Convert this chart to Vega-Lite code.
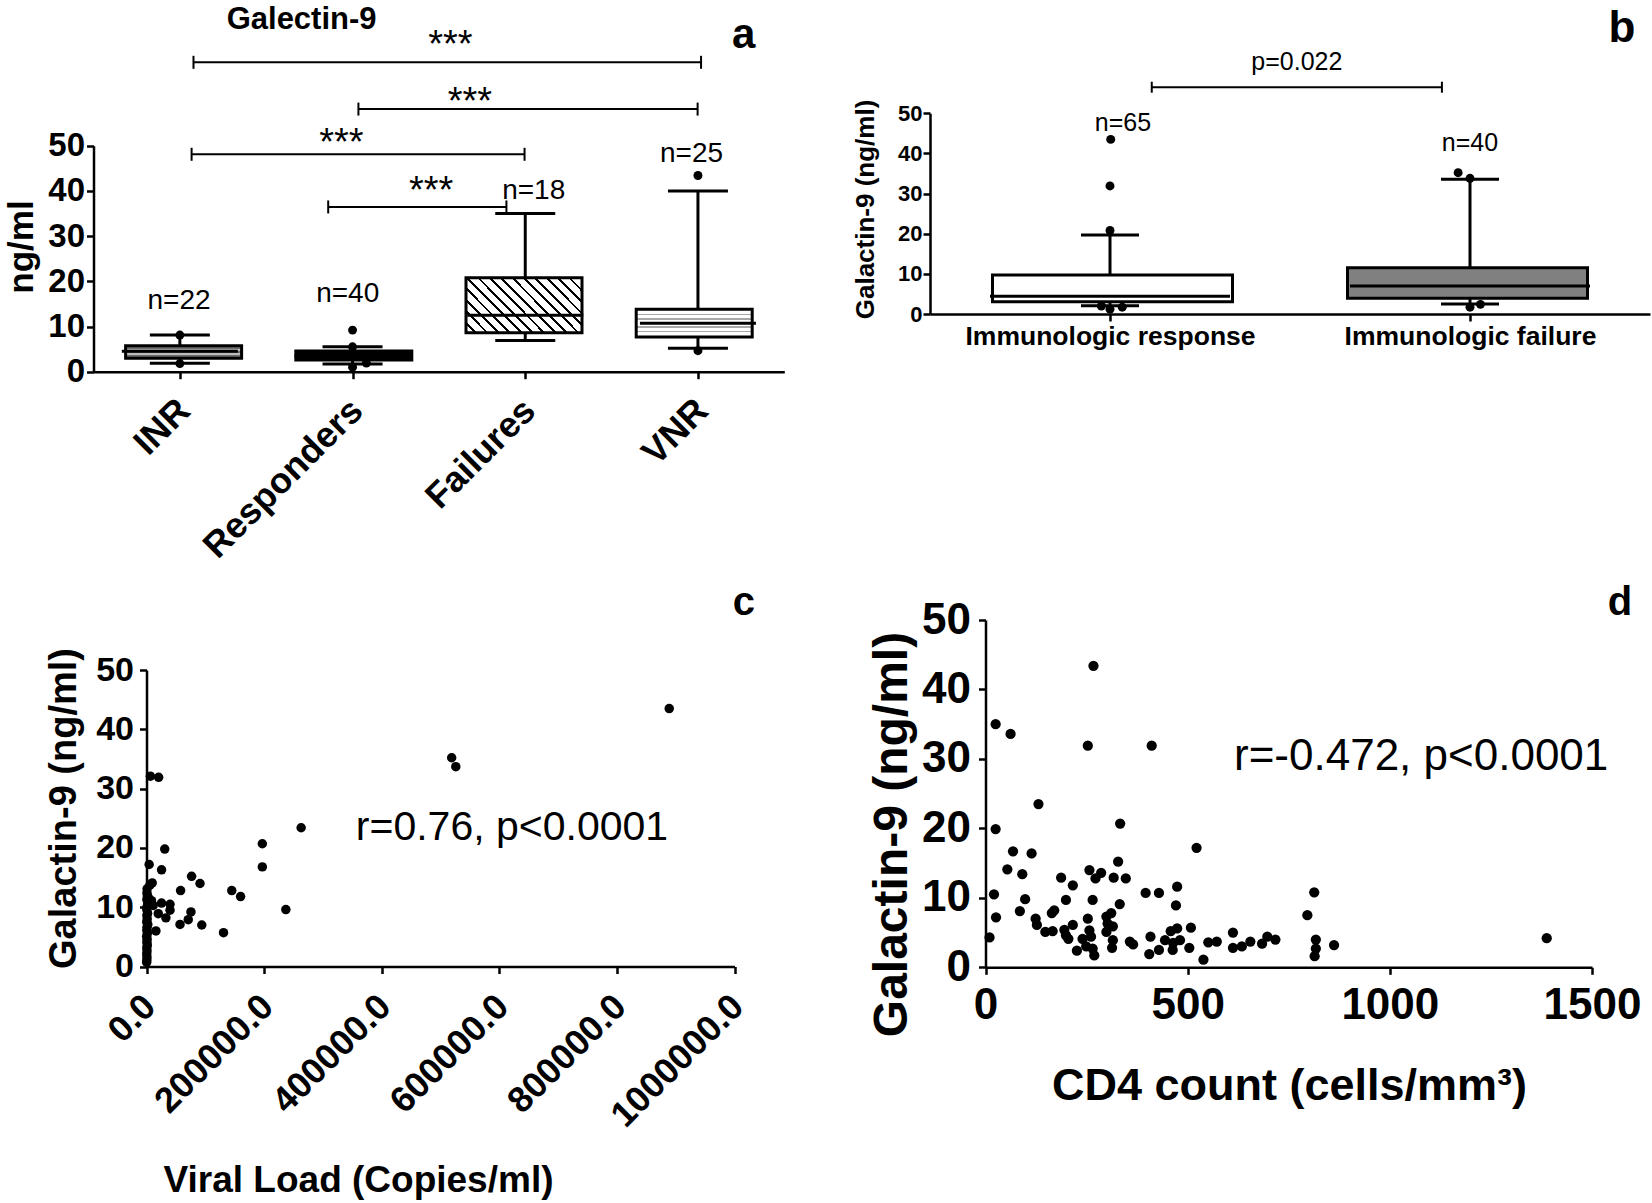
{
  "$schema": "https://vega.github.io/schema/vega-lite/v6.json",
  "width": 1652,
  "height": 1203,
  "autosize": {"type": "none"},
  "padding": 0,
  "background": "white",
  "config": {
    "font": "Liberation Sans, Arial, sans-serif",
    "view": {"stroke": null},
    "axis": {
      "grid": false,
      "domainColor": "black",
      "tickColor": "black",
      "labelColor": "black",
      "titleColor": "black",
      "domainWidth": 2.5,
      "tickWidth": 2.5,
      "tickSize": 7,
      "labelFontWeight": "bold",
      "titleFontWeight": "bold",
      "labelFlush": false,
      "labelOverlap": false,
      "labelLimit": 0
    }
  },
  "datasets": {
    "boxA": [
      {"grp": "INR", "pos": 1, "lo": 1.86, "q1": 2.96, "med": 4.5, "q3": 5.75, "hi": 8.1},
      {"grp": "Responders", "pos": 2, "lo": 1.7, "q1": 2.6, "med": 3.5, "q3": 4.6, "hi": 5.5},
      {"grp": "Failures", "pos": 3, "lo": 6.9, "q1": 8.6, "med": 12.5, "q3": 20.8, "hi": 35.0},
      {"grp": "VNR", "pos": 4, "lo": 5.2, "q1": 7.7, "med": 10.7, "q3": 13.8, "hi": 40.0}
    ],
    "outA": [
      {"pos": 1, "val": 8.1}, {"pos": 1, "val": 1.8},
      {"pos": 2, "val": 9.2}, {"pos": 2, "val": 5.5}, {"pos": 2, "val": 1.0}, {"pos": 2.08, "val": 1.9},
      {"pos": 4, "val": 43.4}, {"pos": 4, "val": 4.65}
    ],
    "brA": [
      {"x1": 1.079, "x2": 4.018, "y": 68.45},
      {"x1": 2.034, "x2": 3.998, "y": 58.1},
      {"x1": 1.068, "x2": 2.996, "y": 48.1},
      {"x1": 1.859, "x2": 2.891, "y": 36.45}
    ],
    "txtA": [
      {"pos": 0.995, "val": 15.7, "txt": "n=22", "kind": "n"},
      {"pos": 1.972, "val": 17.3, "txt": "n=40", "kind": "n"},
      {"pos": 3.049, "val": 39.9, "txt": "n=18", "kind": "n"},
      {"pos": 3.963, "val": 48.2, "txt": "n=25", "kind": "n"},
      {"pos": 2.567, "val": 72.1, "txt": "***", "kind": "star"},
      {"pos": 2.679, "val": 59.5, "txt": "***", "kind": "star"},
      {"pos": 1.935, "val": 50.3, "txt": "***", "kind": "star"},
      {"pos": 2.455, "val": 39.8, "txt": "***", "kind": "star"},
      {"pos": 1.705, "val": 77.8, "txt": "Galectin-9", "kind": "title"},
      {"pos": 4.265, "val": 74.5, "txt": "a", "kind": "letter"}
    ],
    "boxB": [
      {"grp": "Immunologic response", "pos": 1, "lo": 2.07, "q1": 3.07, "med": 4.4, "q3": 9.7, "hi": 19.7},
      {"grp": "Immunologic failure", "pos": 2, "lo": 2.5, "q1": 3.9, "med": 7.0, "q3": 11.5, "hi": 33.6}
    ],
    "outB": [
      {"pos": 1.002, "val": 43.5}, {"pos": 1.0, "val": 31.9}, {"pos": 1.0, "val": 20.8},
      {"pos": 0.976, "val": 2.0}, {"pos": 1.0, "val": 1.2}, {"pos": 1.034, "val": 1.7},
      {"pos": 1.967, "val": 35.2}, {"pos": 2.0, "val": 33.8}, {"pos": 2.0, "val": 1.7}, {"pos": 2.029, "val": 2.4}
    ],
    "brB": [
      {"x1": 1.116, "x2": 1.922, "y": 56.5}
    ],
    "txtB": [
      {"pos": 1.519, "val": 62.8, "txt": "p=0.022", "kind": "n"},
      {"pos": 1.036, "val": 47.6, "txt": "n=65", "kind": "n"},
      {"pos": 2.0, "val": 42.5, "txt": "n=40", "kind": "n"},
      {"pos": 2.422, "val": 71.0, "txt": "b", "kind": "letter"}
    ],
    "ptsC": [
      {"x": 889000, "y": 43.5}, {"x": 519000, "y": 35.2}, {"x": 526000, "y": 33.7},
      {"x": 263000, "y": 23.4}, {"x": 197000, "y": 20.7}, {"x": 197000, "y": 16.8},
      {"x": 237000, "y": 9.6}, {"x": 131000, "y": 5.7}, {"x": 145000, "y": 12.8},
      {"x": 160000, "y": 11.8}, {"x": 94000, "y": 7.0}, {"x": 91000, "y": 14.0},
      {"x": 76700, "y": 15.2}, {"x": 58000, "y": 12.8}, {"x": 57000, "y": 7.1},
      {"x": 71000, "y": 7.9}, {"x": 75600, "y": 9.2}, {"x": 31000, "y": 19.8},
      {"x": 25600, "y": 16.3}, {"x": 6600, "y": 32.1}, {"x": 20600, "y": 31.9},
      {"x": 4500, "y": 17.2}, {"x": 9700, "y": 14.1}, {"x": 5700, "y": 13.7},
      {"x": 1000, "y": 13.1}, {"x": 40000, "y": 10.5}, {"x": 40000, "y": 9.5},
      {"x": 25600, "y": 10.7}, {"x": 33000, "y": 8.2}, {"x": 20000, "y": 8.9},
      {"x": 16000, "y": 6.0}, {"x": 8500, "y": 11.1}, {"x": 11400, "y": 10.3},
      {"x": 2800, "y": 11.7}, {"x": 2800, "y": 10.6},
      {"x": 800, "y": 12.4}, {"x": 1500, "y": 11.9}, {"x": 600, "y": 11.3}, {"x": 2000, "y": 10.9},
      {"x": 1000, "y": 10.1}, {"x": 500, "y": 9.6}, {"x": 1800, "y": 9.0}, {"x": 700, "y": 8.6},
      {"x": 1200, "y": 8.0}, {"x": 400, "y": 7.5}, {"x": 2200, "y": 7.1}, {"x": 900, "y": 6.6},
      {"x": 600, "y": 6.1}, {"x": 1500, "y": 5.6}, {"x": 300, "y": 5.1}, {"x": 1000, "y": 4.6},
      {"x": 700, "y": 4.1}, {"x": 1300, "y": 3.6}, {"x": 500, "y": 3.1}, {"x": 900, "y": 2.6},
      {"x": 400, "y": 2.1}, {"x": 800, "y": 1.6}, {"x": 600, "y": 1.1}, {"x": 300, "y": 0.7}
    ],
    "txtC": [
      {"x": 356000, "y": 23.4, "txt": "r=0.76, p<0.0001", "kind": "r"},
      {"x": 1016000, "y": 61.3, "txt": "c", "kind": "letter"}
    ],
    "ptsD": [
      {"x": 267, "y": 43.4}, {"x": 25, "y": 35.0}, {"x": 62, "y": 33.6}, {"x": 253, "y": 31.9},
      {"x": 411, "y": 31.9}, {"x": 131, "y": 23.5}, {"x": 1388, "y": 4.2},
      {"x": 25, "y": 19.9}, {"x": 333, "y": 20.7}, {"x": 522, "y": 17.2}, {"x": 68, "y": 16.7},
      {"x": 114, "y": 16.4}, {"x": 54, "y": 14.1}, {"x": 91, "y": 13.4}, {"x": 257, "y": 14.0},
      {"x": 286, "y": 13.6}, {"x": 272, "y": 12.8}, {"x": 328, "y": 15.2}, {"x": 317, "y": 12.9},
      {"x": 347, "y": 12.8}, {"x": 187, "y": 12.9}, {"x": 216, "y": 11.8}, {"x": 474, "y": 11.6},
      {"x": 396, "y": 10.7}, {"x": 429, "y": 10.7}, {"x": 21, "y": 10.5}, {"x": 813, "y": 10.8},
      {"x": 98, "y": 9.8}, {"x": 199, "y": 9.7}, {"x": 265, "y": 9.7}, {"x": 332, "y": 9.1},
      {"x": 471, "y": 8.9}, {"x": 85, "y": 8.1}, {"x": 26, "y": 7.2}, {"x": 164, "y": 7.8},
      {"x": 170, "y": 8.2}, {"x": 124, "y": 7.0}, {"x": 127, "y": 6.1}, {"x": 148, "y": 5.1},
      {"x": 166, "y": 5.2}, {"x": 195, "y": 5.4}, {"x": 199, "y": 4.6}, {"x": 205, "y": 4.1},
      {"x": 216, "y": 6.1}, {"x": 253, "y": 7.0}, {"x": 257, "y": 5.3}, {"x": 261, "y": 4.4},
      {"x": 240, "y": 4.1}, {"x": 249, "y": 3.0}, {"x": 226, "y": 2.4}, {"x": 269, "y": 1.7},
      {"x": 265, "y": 2.7}, {"x": 299, "y": 7.3}, {"x": 311, "y": 7.8}, {"x": 302, "y": 6.3},
      {"x": 315, "y": 5.9}, {"x": 299, "y": 5.1}, {"x": 315, "y": 3.9}, {"x": 313, "y": 2.8},
      {"x": 357, "y": 3.7}, {"x": 365, "y": 3.3}, {"x": 408, "y": 4.4}, {"x": 405, "y": 1.9},
      {"x": 429, "y": 2.5}, {"x": 444, "y": 3.9}, {"x": 458, "y": 5.2}, {"x": 474, "y": 5.6},
      {"x": 464, "y": 3.5}, {"x": 481, "y": 3.9}, {"x": 463, "y": 2.5}, {"x": 504, "y": 2.8},
      {"x": 508, "y": 5.7}, {"x": 539, "y": 1.1}, {"x": 551, "y": 3.6}, {"x": 572, "y": 3.7},
      {"x": 612, "y": 5.0}, {"x": 612, "y": 2.8}, {"x": 634, "y": 3.0}, {"x": 655, "y": 3.7},
      {"x": 684, "y": 3.4}, {"x": 697, "y": 4.4}, {"x": 717, "y": 4.0}, {"x": 796, "y": 7.5},
      {"x": 817, "y": 4.0}, {"x": 817, "y": 2.7}, {"x": 814, "y": 1.6}, {"x": 862, "y": 3.2},
      {"x": 10, "y": 4.3}
    ],
    "txtD": [
      {"x": 614.6, "y": 30.3, "txt": "r=-0.472, p<0.0001", "kind": "r"},
      {"x": 1569, "y": 52.4, "txt": "d", "kind": "letter"}
    ]
  },
  "resolve": {
    "scale": {"x": "independent", "y": "independent"},
    "axis": {"x": "independent", "y": "independent"}
  },
  "layer": [
    {
      "data": {"name": "boxA"},
      "mark": {"type": "rule", "strokeWidth": 3, "color": "black"},
      "encoding": {
        "x": {"field": "pos", "type": "quantitative",
          "scale": {"domain": [0.5, 4.5], "range": [93.5, 784.3], "nice": false, "zero": false},
          "axis": {"orient": "bottom", "offset": -831.3, "values": [1, 2, 3, 4],
            "labelExpr": "datum.value == 1 ? 'INR' : datum.value == 2 ? 'Responders' : datum.value == 3 ? 'Failures' : 'VNR'",
            "labelAngle": -45, "labelAlign": "right", "labelBaseline": "middle",
            "labelFontSize": 36, "labelPadding": 26, "labelOffset": 4, "title": null}},
        "y": {"field": "lo", "type": "quantitative",
          "scale": {"domain": [0, 50], "range": [371.7, 145.7], "nice": false, "zero": false},
          "axis": {"orient": "left", "offset": -93.5, "values": [0, 10, 20, 30, 40, 50],
            "labelFontSize": 33, "labelPadding": 2, "title": "ng/ml", "titleFontSize": 35,
            "titleX": -72.5, "titleY": 246.5, "titleAngle": -90, "titleBaseline": "middle", "titleAlign": "center"}},
        "y2": {"field": "hi"}
      }
    },
    {
      "data": {"name": "boxA"},
      "transform": [{"filter": "datum.grp == 'INR'"}],
      "mark": {"type": "bar", "width": 116, "stroke": "black", "strokeWidth": 3,
        "fill": {"gradient": "linear", "x1": 0, "y1": 0, "x2": 0, "y2": 1, "stops": [
          {"offset": 0, "color": "#6e6e6e"}, {"offset": 0.28, "color": "#6e6e6e"},
          {"offset": 0.28, "color": "#bdbdbd"}, {"offset": 0.44, "color": "#bdbdbd"},
          {"offset": 0.44, "color": "#6e6e6e"}, {"offset": 0.56, "color": "#6e6e6e"},
          {"offset": 0.56, "color": "#bdbdbd"}, {"offset": 0.72, "color": "#bdbdbd"},
          {"offset": 0.72, "color": "#6e6e6e"}, {"offset": 1, "color": "#6e6e6e"}]}},
      "encoding": {
        "x": {"field": "pos", "type": "quantitative", "scale": {"domain": [0.5, 4.5], "range": [93.5, 784.3], "nice": false, "zero": false}, "axis": null},
        "y": {"field": "q1", "type": "quantitative", "scale": {"domain": [0, 50], "range": [371.7, 145.7], "nice": false, "zero": false}, "axis": null},
        "y2": {"field": "q3"}
      }
    },
    {
      "data": {"name": "boxA"},
      "transform": [{"filter": "datum.grp == 'Responders'"}],
      "mark": {"type": "bar", "width": 116, "stroke": "black", "strokeWidth": 3, "fill": "black"},
      "encoding": {
        "x": {"field": "pos", "type": "quantitative", "scale": {"domain": [0.5, 4.5], "range": [93.5, 784.3], "nice": false, "zero": false}, "axis": null},
        "y": {"field": "q1", "type": "quantitative", "scale": {"domain": [0, 50], "range": [371.7, 145.7], "nice": false, "zero": false}, "axis": null},
        "y2": {"field": "q3"}
      }
    },
    {
      "data": {"name": "boxA"},
      "transform": [{"filter": "datum.grp == 'Failures'"}],
      "mark": {"type": "bar", "width": 116, "stroke": "black", "strokeWidth": 3,
        "fill": {"gradient": "linear", "x1": 0, "y1": 1, "x2": 1.204, "y2": 0.433, "stops": [
          {"offset": 0, "color": "white"}, {"offset": 0.05, "color": "white"}, {"offset": 0.05, "color": "black"}, {"offset": 0.0667, "color": "black"},
          {"offset": 0.0667, "color": "white"}, {"offset": 0.1167, "color": "white"}, {"offset": 0.1167, "color": "black"}, {"offset": 0.1333, "color": "black"},
          {"offset": 0.1333, "color": "white"}, {"offset": 0.1833, "color": "white"}, {"offset": 0.1833, "color": "black"}, {"offset": 0.2, "color": "black"},
          {"offset": 0.2, "color": "white"}, {"offset": 0.25, "color": "white"}, {"offset": 0.25, "color": "black"}, {"offset": 0.2667, "color": "black"},
          {"offset": 0.2667, "color": "white"}, {"offset": 0.3167, "color": "white"}, {"offset": 0.3167, "color": "black"}, {"offset": 0.3333, "color": "black"},
          {"offset": 0.3333, "color": "white"}, {"offset": 0.3833, "color": "white"}, {"offset": 0.3833, "color": "black"}, {"offset": 0.4, "color": "black"},
          {"offset": 0.4, "color": "white"}, {"offset": 0.45, "color": "white"}, {"offset": 0.45, "color": "black"}, {"offset": 0.4667, "color": "black"},
          {"offset": 0.4667, "color": "white"}, {"offset": 0.5167, "color": "white"}, {"offset": 0.5167, "color": "black"}, {"offset": 0.5333, "color": "black"},
          {"offset": 0.5333, "color": "white"}, {"offset": 0.5833, "color": "white"}, {"offset": 0.5833, "color": "black"}, {"offset": 0.6, "color": "black"},
          {"offset": 0.6, "color": "white"}, {"offset": 0.65, "color": "white"}, {"offset": 0.65, "color": "black"}, {"offset": 0.6667, "color": "black"},
          {"offset": 0.6667, "color": "white"}, {"offset": 0.7167, "color": "white"}, {"offset": 0.7167, "color": "black"}, {"offset": 0.7333, "color": "black"},
          {"offset": 0.7333, "color": "white"}, {"offset": 0.7833, "color": "white"}, {"offset": 0.7833, "color": "black"}, {"offset": 0.8, "color": "black"},
          {"offset": 0.8, "color": "white"}, {"offset": 0.85, "color": "white"}, {"offset": 0.85, "color": "black"}, {"offset": 0.8667, "color": "black"},
          {"offset": 0.8667, "color": "white"}, {"offset": 0.9167, "color": "white"}, {"offset": 0.9167, "color": "black"}, {"offset": 0.9333, "color": "black"},
          {"offset": 0.9333, "color": "white"}, {"offset": 0.9833, "color": "white"}, {"offset": 0.9833, "color": "black"}, {"offset": 1, "color": "black"}]}},
      "encoding": {
        "x": {"field": "pos", "type": "quantitative", "scale": {"domain": [0.5, 4.5], "range": [93.5, 784.3], "nice": false, "zero": false}, "axis": null},
        "y": {"field": "q1", "type": "quantitative", "scale": {"domain": [0, 50], "range": [371.7, 145.7], "nice": false, "zero": false}, "axis": null},
        "y2": {"field": "q3"}
      }
    },
    {
      "data": {"name": "boxA"},
      "transform": [{"filter": "datum.grp == 'VNR'"}],
      "mark": {"type": "bar", "width": 116, "stroke": "black", "strokeWidth": 3,
        "fill": {"gradient": "linear", "x1": 0, "y1": 0, "x2": 0, "y2": 1, "stops": [
          {"offset": 0, "color": "white"}, {"offset": 0.17, "color": "white"},
          {"offset": 0.17, "color": "#a8a8a8"}, {"offset": 0.22, "color": "#a8a8a8"},
          {"offset": 0.22, "color": "white"}, {"offset": 0.33, "color": "white"},
          {"offset": 0.33, "color": "#a8a8a8"}, {"offset": 0.38, "color": "#a8a8a8"},
          {"offset": 0.38, "color": "white"}, {"offset": 0.62, "color": "white"},
          {"offset": 0.62, "color": "#a8a8a8"}, {"offset": 0.67, "color": "#a8a8a8"},
          {"offset": 0.67, "color": "white"}, {"offset": 0.78, "color": "white"},
          {"offset": 0.78, "color": "#a8a8a8"}, {"offset": 0.83, "color": "#a8a8a8"},
          {"offset": 0.83, "color": "white"}, {"offset": 1, "color": "white"}]}},
      "encoding": {
        "x": {"field": "pos", "type": "quantitative", "scale": {"domain": [0.5, 4.5], "range": [93.5, 784.3], "nice": false, "zero": false}, "axis": null},
        "y": {"field": "q1", "type": "quantitative", "scale": {"domain": [0, 50], "range": [371.7, 145.7], "nice": false, "zero": false}, "axis": null},
        "y2": {"field": "q3"}
      }
    },
    {
      "data": {"name": "boxA"},
      "mark": {"type": "tick", "orient": "horizontal", "size": 116, "thickness": 3, "color": "black", "opacity": 1},
      "encoding": {
        "x": {"field": "pos", "type": "quantitative", "scale": {"domain": [0.5, 4.5], "range": [93.5, 784.3], "nice": false, "zero": false}, "axis": null},
        "y": {"field": "med", "type": "quantitative", "scale": {"domain": [0, 50], "range": [371.7, 145.7], "nice": false, "zero": false}, "axis": null}
      }
    },
    {
      "data": {"name": "boxA"},
      "transform": [{"fold": ["lo", "hi"], "as": ["which", "cap"]}],
      "mark": {"type": "tick", "orient": "horizontal", "size": 60, "thickness": 3, "color": "black", "opacity": 1},
      "encoding": {
        "x": {"field": "pos", "type": "quantitative", "scale": {"domain": [0.5, 4.5], "range": [93.5, 784.3], "nice": false, "zero": false}, "axis": null},
        "y": {"field": "cap", "type": "quantitative", "scale": {"domain": [0, 50], "range": [371.7, 145.7], "nice": false, "zero": false}, "axis": null}
      }
    },
    {
      "data": {"name": "outA"},
      "mark": {"type": "point", "filled": true, "shape": "circle", "size": 80, "color": "black", "opacity": 1},
      "encoding": {
        "x": {"field": "pos", "type": "quantitative", "scale": {"domain": [0.5, 4.5], "range": [93.5, 784.3], "nice": false, "zero": false}, "axis": null},
        "y": {"field": "val", "type": "quantitative", "scale": {"domain": [0, 50], "range": [371.7, 145.7], "nice": false, "zero": false}, "axis": null}
      }
    },
    {
      "data": {"name": "brA"},
      "mark": {"type": "rule", "strokeWidth": 2, "color": "black"},
      "encoding": {
        "x": {"field": "x1", "type": "quantitative", "scale": {"domain": [0.5, 4.5], "range": [93.5, 784.3], "nice": false, "zero": false}, "axis": null},
        "x2": {"field": "x2"},
        "y": {"field": "y", "type": "quantitative", "scale": {"domain": [0, 50], "range": [371.7, 145.7], "nice": false, "zero": false}, "axis": null}
      }
    },
    {
      "data": {"name": "brA"},
      "transform": [{"fold": ["x1", "x2"], "as": ["end", "xe"]}],
      "mark": {"type": "tick", "orient": "vertical", "size": 13, "thickness": 2, "color": "black", "opacity": 1},
      "encoding": {
        "x": {"field": "xe", "type": "quantitative", "scale": {"domain": [0.5, 4.5], "range": [93.5, 784.3], "nice": false, "zero": false}, "axis": null},
        "y": {"field": "y", "type": "quantitative", "scale": {"domain": [0, 50], "range": [371.7, 145.7], "nice": false, "zero": false}, "axis": null}
      }
    },
    {
      "data": {"name": "txtA"},
      "transform": [{"filter": "datum.kind == 'n'"}],
      "mark": {"type": "text", "fontSize": 28, "align": "center", "baseline": "middle", "color": "black"},
      "encoding": {
        "x": {"field": "pos", "type": "quantitative", "scale": {"domain": [0.5, 4.5], "range": [93.5, 784.3], "nice": false, "zero": false}, "axis": null},
        "y": {"field": "val", "type": "quantitative", "scale": {"domain": [0, 50], "range": [371.7, 145.7], "nice": false, "zero": false}, "axis": null},
        "text": {"field": "txt"}
      }
    },
    {
      "data": {"name": "txtA"},
      "transform": [{"filter": "datum.kind == 'star'"}],
      "mark": {"type": "text", "fontSize": 38, "align": "center", "baseline": "middle", "color": "black"},
      "encoding": {
        "x": {"field": "pos", "type": "quantitative", "scale": {"domain": [0.5, 4.5], "range": [93.5, 784.3], "nice": false, "zero": false}, "axis": null},
        "y": {"field": "val", "type": "quantitative", "scale": {"domain": [0, 50], "range": [371.7, 145.7], "nice": false, "zero": false}, "axis": null},
        "text": {"field": "txt"}
      }
    },
    {
      "data": {"name": "txtA"},
      "transform": [{"filter": "datum.kind == 'title'"}],
      "mark": {"type": "text", "fontSize": 31, "fontWeight": "bold", "align": "center", "baseline": "middle", "color": "black"},
      "encoding": {
        "x": {"field": "pos", "type": "quantitative", "scale": {"domain": [0.5, 4.5], "range": [93.5, 784.3], "nice": false, "zero": false}, "axis": null},
        "y": {"field": "val", "type": "quantitative", "scale": {"domain": [0, 50], "range": [371.7, 145.7], "nice": false, "zero": false}, "axis": null},
        "text": {"field": "txt"}
      }
    },
    {
      "data": {"name": "txtA"},
      "transform": [{"filter": "datum.kind == 'letter'"}],
      "mark": {"type": "text", "fontSize": 42, "fontWeight": "bold", "align": "center", "baseline": "middle", "color": "black"},
      "encoding": {
        "x": {"field": "pos", "type": "quantitative", "scale": {"domain": [0.5, 4.5], "range": [93.5, 784.3], "nice": false, "zero": false}, "axis": null},
        "y": {"field": "val", "type": "quantitative", "scale": {"domain": [0, 50], "range": [371.7, 145.7], "nice": false, "zero": false}, "axis": null},
        "text": {"field": "txt"}
      }
    },
    {
      "data": {"name": "boxB"},
      "mark": {"type": "rule", "strokeWidth": 3, "color": "black"},
      "encoding": {
        "x": {"field": "pos", "type": "quantitative",
          "scale": {"domain": [0.5, 2.5], "range": [930, 1650], "nice": false, "zero": false},
          "axis": {"orient": "bottom", "offset": -889, "values": [1, 2],
            "labelExpr": "datum.value == 1 ? 'Immunologic response' : 'Immunologic failure'",
            "labelAngle": 0, "labelAlign": "center", "labelBaseline": "top",
            "labelFontSize": 26.5, "labelPadding": 2, "title": null}},
        "y": {"field": "lo", "type": "quantitative",
          "scale": {"domain": [0, 50], "range": [314, 113.3], "nice": false, "zero": false},
          "axis": {"orient": "left", "offset": -930, "values": [0, 10, 20, 30, 40, 50],
            "labelFontSize": 22, "labelPadding": 1, "title": "Galactin-9 (ng/ml)", "titleFontSize": 26,
            "titleX": -65, "titleY": 209, "titleAngle": -90, "titleBaseline": "middle", "titleAlign": "center"}},
        "y2": {"field": "hi"}
      }
    },
    {
      "data": {"name": "boxB"},
      "transform": [{"filter": "datum.pos == 1"}],
      "mark": {"type": "bar", "width": 240, "stroke": "black", "strokeWidth": 3, "fill": "white"},
      "encoding": {
        "x": {"field": "pos", "type": "quantitative", "scale": {"domain": [0.5, 2.5], "range": [930, 1650], "nice": false, "zero": false}, "axis": null},
        "y": {"field": "q1", "type": "quantitative", "scale": {"domain": [0, 50], "range": [314, 113.3], "nice": false, "zero": false}, "axis": null},
        "y2": {"field": "q3"}
      }
    },
    {
      "data": {"name": "boxB"},
      "transform": [{"filter": "datum.pos == 2"}],
      "mark": {"type": "bar", "width": 240, "stroke": "black", "strokeWidth": 3, "fill": "#808080"},
      "encoding": {
        "x": {"field": "pos", "type": "quantitative", "scale": {"domain": [0.5, 2.5], "range": [930, 1650], "nice": false, "zero": false}, "axis": null},
        "y": {"field": "q1", "type": "quantitative", "scale": {"domain": [0, 50], "range": [314, 113.3], "nice": false, "zero": false}, "axis": null},
        "y2": {"field": "q3"}
      }
    },
    {
      "data": {"name": "boxB"},
      "mark": {"type": "tick", "orient": "horizontal", "size": 240, "thickness": 3, "color": "black", "opacity": 1},
      "encoding": {
        "x": {"field": "pos", "type": "quantitative", "scale": {"domain": [0.5, 2.5], "range": [930, 1650], "nice": false, "zero": false}, "axis": null},
        "y": {"field": "med", "type": "quantitative", "scale": {"domain": [0, 50], "range": [314, 113.3], "nice": false, "zero": false}, "axis": null}
      }
    },
    {
      "data": {"name": "boxB"},
      "transform": [{"fold": ["lo", "hi"], "as": ["which", "cap"]}],
      "mark": {"type": "tick", "orient": "horizontal", "size": 58, "thickness": 3, "color": "black", "opacity": 1},
      "encoding": {
        "x": {"field": "pos", "type": "quantitative", "scale": {"domain": [0.5, 2.5], "range": [930, 1650], "nice": false, "zero": false}, "axis": null},
        "y": {"field": "cap", "type": "quantitative", "scale": {"domain": [0, 50], "range": [314, 113.3], "nice": false, "zero": false}, "axis": null}
      }
    },
    {
      "data": {"name": "outB"},
      "mark": {"type": "point", "filled": true, "shape": "circle", "size": 80, "color": "black", "opacity": 1},
      "encoding": {
        "x": {"field": "pos", "type": "quantitative", "scale": {"domain": [0.5, 2.5], "range": [930, 1650], "nice": false, "zero": false}, "axis": null},
        "y": {"field": "val", "type": "quantitative", "scale": {"domain": [0, 50], "range": [314, 113.3], "nice": false, "zero": false}, "axis": null}
      }
    },
    {
      "data": {"name": "brB"},
      "mark": {"type": "rule", "strokeWidth": 2, "color": "black"},
      "encoding": {
        "x": {"field": "x1", "type": "quantitative", "scale": {"domain": [0.5, 2.5], "range": [930, 1650], "nice": false, "zero": false}, "axis": null},
        "x2": {"field": "x2"},
        "y": {"field": "y", "type": "quantitative", "scale": {"domain": [0, 50], "range": [314, 113.3], "nice": false, "zero": false}, "axis": null}
      }
    },
    {
      "data": {"name": "brB"},
      "transform": [{"fold": ["x1", "x2"], "as": ["end", "xe"]}],
      "mark": {"type": "tick", "orient": "vertical", "size": 11, "thickness": 2, "color": "black", "opacity": 1},
      "encoding": {
        "x": {"field": "xe", "type": "quantitative", "scale": {"domain": [0.5, 2.5], "range": [930, 1650], "nice": false, "zero": false}, "axis": null},
        "y": {"field": "y", "type": "quantitative", "scale": {"domain": [0, 50], "range": [314, 113.3], "nice": false, "zero": false}, "axis": null}
      }
    },
    {
      "data": {"name": "txtB"},
      "transform": [{"filter": "datum.kind == 'n'"}],
      "mark": {"type": "text", "fontSize": 25, "align": "center", "baseline": "middle", "color": "black"},
      "encoding": {
        "x": {"field": "pos", "type": "quantitative", "scale": {"domain": [0.5, 2.5], "range": [930, 1650], "nice": false, "zero": false}, "axis": null},
        "y": {"field": "val", "type": "quantitative", "scale": {"domain": [0, 50], "range": [314, 113.3], "nice": false, "zero": false}, "axis": null},
        "text": {"field": "txt"}
      }
    },
    {
      "data": {"name": "txtB"},
      "transform": [{"filter": "datum.kind == 'letter'"}],
      "mark": {"type": "text", "fontSize": 44, "fontWeight": "bold", "align": "center", "baseline": "middle", "color": "black"},
      "encoding": {
        "x": {"field": "pos", "type": "quantitative", "scale": {"domain": [0.5, 2.5], "range": [930, 1650], "nice": false, "zero": false}, "axis": null},
        "y": {"field": "val", "type": "quantitative", "scale": {"domain": [0, 50], "range": [314, 113.3], "nice": false, "zero": false}, "axis": null},
        "text": {"field": "txt"}
      }
    },
    {
      "data": {"name": "ptsC"},
      "mark": {"type": "point", "filled": true, "shape": "circle", "size": 90, "color": "black", "opacity": 1},
      "encoding": {
        "x": {"field": "x", "type": "quantitative",
          "scale": {"domain": [0, 1000000], "range": [146.5, 734.5], "nice": false, "zero": false},
          "axis": {"orient": "bottom", "offset": -236.5, "values": [0, 200000, 400000, 600000, 800000, 1000000],
            "format": ".1f", "labelAngle": -45, "labelAlign": "right", "labelBaseline": "middle",
            "labelFontSize": 36, "labelPadding": 27, "labelOffset": 3,
            "title": "Viral Load (Copies/ml)", "titleFontSize": 37,
            "titleX": 358, "titleY": 213.5, "titleBaseline": "middle", "titleAlign": "center"}},
        "y": {"field": "y", "type": "quantitative",
          "scale": {"domain": [0, 50], "range": [966.5, 670], "nice": false, "zero": false},
          "axis": {"orient": "left", "offset": -146.5, "values": [0, 10, 20, 30, 40, 50],
            "labelFontSize": 34, "labelPadding": 6, "title": "Galactin-9 (ng/ml)", "titleFontSize": 38,
            "titleX": -82.5, "titleY": 808, "titleAngle": -90, "titleBaseline": "middle", "titleAlign": "center"}}
      }
    },
    {
      "data": {"name": "txtC"},
      "transform": [{"filter": "datum.kind == 'r'"}],
      "mark": {"type": "text", "fontSize": 41, "align": "left", "baseline": "middle", "color": "black"},
      "encoding": {
        "x": {"field": "x", "type": "quantitative", "scale": {"domain": [0, 1000000], "range": [146.5, 734.5], "nice": false, "zero": false}, "axis": null},
        "y": {"field": "y", "type": "quantitative", "scale": {"domain": [0, 50], "range": [966.5, 670], "nice": false, "zero": false}, "axis": null},
        "text": {"field": "txt"}
      }
    },
    {
      "data": {"name": "txtC"},
      "transform": [{"filter": "datum.kind == 'letter'"}],
      "mark": {"type": "text", "fontSize": 40, "fontWeight": "bold", "align": "center", "baseline": "middle", "color": "black"},
      "encoding": {
        "x": {"field": "x", "type": "quantitative", "scale": {"domain": [0, 1000000], "range": [146.5, 734.5], "nice": false, "zero": false}, "axis": null},
        "y": {"field": "y", "type": "quantitative", "scale": {"domain": [0, 50], "range": [966.5, 670], "nice": false, "zero": false}, "axis": null},
        "text": {"field": "txt"}
      }
    },
    {
      "data": {"name": "ptsD"},
      "mark": {"type": "point", "filled": true, "shape": "circle", "size": 105, "color": "black", "opacity": 1},
      "encoding": {
        "x": {"field": "x", "type": "quantitative",
          "scale": {"domain": [0, 1500], "range": [985.5, 1592], "nice": false, "zero": false},
          "axis": {"orient": "bottom", "offset": -235.7, "values": [0, 500, 1000, 1500], "format": "d",
            "labelAngle": 0, "labelAlign": "center", "labelBaseline": "top",
            "labelFont": "Liberation Sans Narrow, Arial Narrow, Liberation Sans, sans-serif",
            "labelFontSize": 44, "labelPadding": 9,
            "title": "CD4 count (cells/mm³)", "titleFontSize": 45,
            "titleX": 1289, "titleY": 117.7, "titleBaseline": "middle", "titleAlign": "center"}},
        "y": {"field": "y", "type": "quantitative",
          "scale": {"domain": [0, 50], "range": [967.3, 620], "nice": false, "zero": false},
          "axis": {"orient": "left", "offset": -985.5, "values": [0, 10, 20, 30, 40, 50], "format": "d",
            "labelFont": "Liberation Sans Narrow, Arial Narrow, Liberation Sans, sans-serif",
            "labelFontSize": 44, "labelPadding": 8, "title": "Galactin-9 (ng/ml)", "titleFontSize": 48,
            "titleX": -93.5, "titleY": 834, "titleAngle": -90, "titleBaseline": "middle", "titleAlign": "center"}}
      }
    },
    {
      "data": {"name": "txtD"},
      "transform": [{"filter": "datum.kind == 'r'"}],
      "mark": {"type": "text", "fontSize": 44, "align": "left", "baseline": "middle", "color": "black"},
      "encoding": {
        "x": {"field": "x", "type": "quantitative", "scale": {"domain": [0, 1500], "range": [985.5, 1592], "nice": false, "zero": false}, "axis": null},
        "y": {"field": "y", "type": "quantitative", "scale": {"domain": [0, 50], "range": [967.3, 620], "nice": false, "zero": false}, "axis": null},
        "text": {"field": "txt"}
      }
    },
    {
      "data": {"name": "txtD"},
      "transform": [{"filter": "datum.kind == 'letter'"}],
      "mark": {"type": "text", "fontSize": 40, "fontWeight": "bold", "align": "center", "baseline": "middle", "color": "black"},
      "encoding": {
        "x": {"field": "x", "type": "quantitative", "scale": {"domain": [0, 1500], "range": [985.5, 1592], "nice": false, "zero": false}, "axis": null},
        "y": {"field": "y", "type": "quantitative", "scale": {"domain": [0, 50], "range": [967.3, 620], "nice": false, "zero": false}, "axis": null},
        "text": {"field": "txt"}
      }
    }
  ]
}
